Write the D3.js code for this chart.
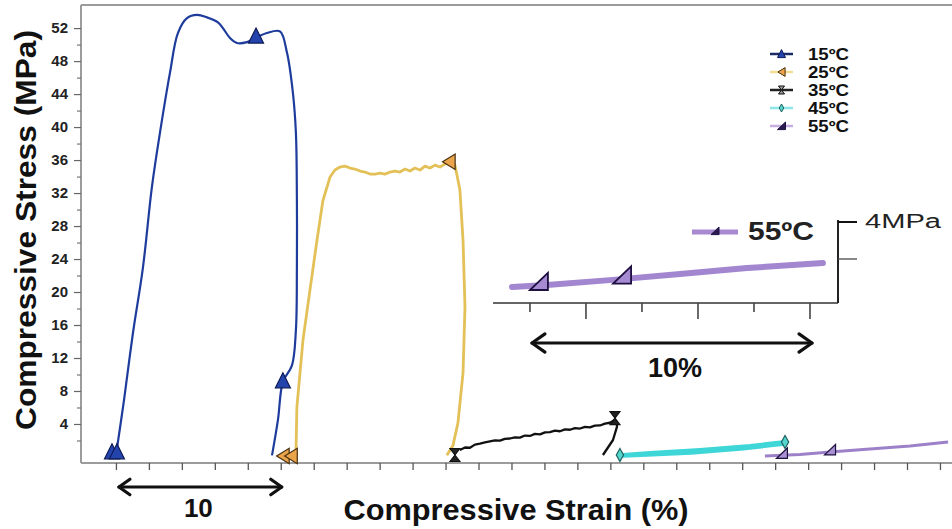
<!DOCTYPE html>
<html>
<head>
<meta charset="utf-8">
<script src="https://cdn.jsdelivr.net/npm/d3@7"></script>
<style>
  body { margin: 0; background: #fff; }
  text { font-family: "Liberation Sans", Arial, sans-serif; }
</style>
</head>
<body>
<svg id="chart"></svg>
<script>
// legend names
const seriesNames = ["15ºC", "25ºC", "35ºC", "45ºC", "55ºC"];

// [strain %, stress MPa] (curves are offset along the strain axis)
const curve15 = [[0.0, 0.2], [0.49, 6.9], [1.03, 15.0], [1.64, 23.0], [2.18, 32.7], [2.67, 39.3],
  [3.28, 46.6], [3.76, 51.4], [4.31, 53.2], [4.92, 53.6], [5.52, 53.3], [6.19, 52.7], [6.49, 52.0],
  [6.92, 50.8], [7.34, 50.2], [7.95, 50.3], [8.56, 50.9], [9.16, 51.4], [9.95, 51.6], [10.38, 49.0],
  [10.74, 44.1], [10.92, 39.3], [10.98, 31.2], [10.98, 23.0], [10.92, 15.4], [10.68, 11.1],
  [10.13, 9.1], [9.83, 4.5], [9.47, 0.2]];
const curve25 = [[10.92, 0.2], [10.98, 6.05], [11.35, 14.2], [11.77, 20.2], [12.2, 26.3], [12.56, 31.1],
  [12.99, 33.94], [13.29, 34.79], [13.59, 35.15], [13.9, 35.27], [14.2, 35.03], [14.5, 34.91],
  [14.81, 34.67], [15.11, 34.55], [15.41, 34.3], [15.72, 34.3], [16.02, 34.42], [16.32, 34.3],
  [16.63, 34.55], [16.93, 34.67], [17.23, 34.55], [17.54, 34.91], [17.84, 34.67], [18.14, 35.03],
  [18.45, 34.79], [18.75, 35.27], [19.05, 35.03], [19.36, 35.39], [19.66, 35.15], [19.96, 35.52],
  [20.27, 35.64], [20.57, 35.39], [20.87, 32.4], [21.06, 26.3], [21.18, 18.2], [21.06, 10.2],
  [20.75, 4.1], [20.45, 1.4], [20.08, 0.2]];
const curve35 = [[20.87, 0.85], [21.18, 1.15], [21.48, 1.12], [21.78, 1.5], [22.09, 1.62], [22.39, 1.78],
  [22.69, 1.9], [23.0, 2.02], [23.3, 1.98], [23.6, 2.2], [23.91, 2.24], [24.21, 2.38], [24.51, 2.35],
  [24.82, 2.6], [25.12, 2.55], [25.42, 2.8], [25.73, 2.74], [26.03, 2.98], [26.33, 3.02], [26.64, 3.2],
  [26.94, 3.12], [27.25, 3.35], [27.55, 3.3], [27.85, 3.5], [28.16, 3.45], [28.46, 3.66], [28.76, 3.6],
  [29.06, 3.8], [29.37, 3.82], [29.67, 4.05], [29.98, 4.15], [30.28, 4.5], [30.4, 4.2], [30.4, 3.64],
  [30.16, 2.06], [29.55, 0.24]];
const curve45 = [[30.76, 0.23], [32.4, 0.48], [35.44, 0.85], [38.47, 1.33], [40.6, 1.82],
  [40.6, 1.6], [37.9, 1.0], [34.9, 0.5], [31.9, 0.25], [30.76, 0.15]];
const curve55 = [[39.38, 0.12], [41.5, 0.3], [43.33, 0.61], [45.75, 0.97], [48.18, 1.33], [50.49, 1.82]];

// marker positions
const marks15 = [[-0.24, 0.6], [0.06, 0.6], [8.5, 51.0], [10.13, 9.2]];
const marks25 = [[10.13, 0.12], [10.62, 0.12], [20.2, 35.8]];
const marks35 = [[20.57, 0.24], [30.28, 4.7]];
const marks45 = [[30.58, 0.24], [40.6, 1.82]];
const marks55 = [[40.41, 0.42], [43.33, 0.85]];

// inset (zoomed 55ºC)
const inset55 = [[39.36, 0.49], [40.61, 0.59], [42.96, 0.87], [45.36, 1.19], [47.75, 1.51], [50.46, 1.78]];
const insetMarks55 = [[40.32, 0.76], [43.29, 1.11]];
const insetXTicks = [40, 42, 44, 46, 48, 50];
const insetYTicks = [2, 4];

// ticks
const yMajor = [4, 8, 12, 16, 20, 24, 28, 32, 36, 40, 44, 48, 52];
const yMinor = [2, 6, 10, 14, 18, 22, 26, 30, 34, 38, 42, 46, 50];
const xTicks = [0, 2, 4, 6, 8, 10, 12, 14, 16, 18, 20, 22, 24, 26, 28, 30, 32, 34, 36, 38, 40, 42, 44, 46, 48, 50];

const W = 952, H = 529;
const svg = d3.select("#chart").attr("width", W).attr("height", H);

const x = d3.scaleLinear().domain([-2.12, 50.73]).range([81, 952]);
const y = d3.scaleLinear().domain([-0.73, 54.8]).range([463, 5]);

// marker shapes (relative to centre)
const shapes = {
  up: s => `M0,${-s * 0.55}L${s * 0.5},${s * 0.45}L${-s * 0.5},${s * 0.45}Z`,
  left: s => `M${-s * 0.45},0L${s * 0.45},${-s * 0.55}L${s * 0.45},${s * 0.55}Z`,
  hour: s => `M${-s * 0.38},${-s * 0.5}L${s * 0.38},${-s * 0.5}L0,0L${s * 0.38},${s * 0.5}L${-s * 0.38},${s * 0.5}L0,0Z`,
  diamond: s => `M0,${-s * 0.5}L${s * 0.28},0L0,${s * 0.5}L${-s * 0.28},0Z`,
  right: s => `M${-s * 0.5},${s * 0.45}L${s * 0.5},${s * 0.45}L${s * 0.5},${-s * 0.5}Z`
};

const series = [
  { data: curve15, marks: marks15, color: "#1e3c9c", width: 2.2, curve: d3.curveCatmullRom, shape: "up", size: 15, fill: "#2444ad", stroke: "#0c1a55", legColor: "#1a2a66", legFill: "#2444ad" },
  { data: curve25, marks: marks25, color: "#e3c158", width: 2.8, curve: d3.curveLinear, shape: "left", size: 14, fill: "#e9a44c", stroke: "#4a3010", legColor: "#f0de98", legFill: "#e9a44c" },
  { data: curve35, marks: marks35, color: "#111", width: 2.3, curve: d3.curveLinear, shape: "hour", size: 13, fill: "#222", stroke: "#111", legColor: "#222", legFill: "#999" },
  { data: curve45, marks: marks45, color: "#3fd6d8", width: 4, curve: d3.curveLinear, shape: "diamond", size: 13, fill: "#55d6cc", stroke: "#1f6060", legColor: "#8ee6e6", legFill: "#55d6cc" },
  { data: curve55, marks: marks55, color: "#9c80c8", width: 3, curve: d3.curveLinear, shape: "right", size: 11, fill: "#a890d2", stroke: "#1e1040", legColor: "#c6aee2", legFill: "#2a1a50" }
];

// frame
const frame = svg.append("g").attr("stroke", "#9c9c9c").attr("stroke-width", 2);
frame.append("line").attr("x1", x.range()[0]).attr("x2", x.range()[1]).attr("y1", y.range()[1]).attr("y2", y.range()[1]);
frame.append("line").attr("x1", x.range()[0]).attr("x2", x.range()[0]).attr("y1", y.range()[1]).attr("y2", y.range()[0]);
frame.append("line").attr("x1", x.range()[0]).attr("x2", x.range()[1]).attr("y1", y.range()[0]).attr("y2", y.range()[0]);

// y axis
svg.append("g")
  .attr("transform", `translate(${x.range()[0]},0)`)
  .call(d3.axisLeft(y).tickValues(yMajor).tickSize(7).tickPadding(6))
  .call(g => g.select(".domain").remove())
  .call(g => g.selectAll("line").attr("stroke", "#666").attr("stroke-width", 1.2))
  .call(g => g.selectAll("text").attr("font-size", 15).attr("font-weight", "bold").attr("fill", "#222")
    .attr("font-family", "'Liberation Sans', Arial, sans-serif"));
svg.append("g")
  .attr("transform", `translate(${x.range()[0]},0)`)
  .call(d3.axisLeft(y).tickValues(yMinor).tickSize(4).tickFormat(""))
  .call(g => g.select(".domain").remove())
  .call(g => g.selectAll("line").attr("stroke", "#777").attr("stroke-width", 1.2));

// x axis (ticks only)
svg.append("g")
  .attr("transform", `translate(0,${y.range()[0]})`)
  .call(d3.axisBottom(x).tickValues(xTicks).tickSize(7).tickFormat(""))
  .call(g => g.select(".domain").remove())
  .call(g => g.selectAll("line").attr("stroke", "#555").attr("stroke-width", 1.3));

// curves
series.forEach(s => {
  svg.append("path")
    .datum(s.data)
    .attr("fill", "none")
    .attr("stroke", s.color)
    .attr("stroke-width", s.width)
    .attr("stroke-linejoin", "round")
    .attr("d", d3.line().x(d => x(d[0])).y(d => y(d[1])).curve(s.curve));
});
series.forEach(s => {
  svg.selectAll(null)
    .data(s.marks)
    .join("path")
    .attr("transform", d => `translate(${x(d[0])},${y(d[1])})`)
    .attr("d", shapes[s.shape](s.size))
    .attr("fill", s.fill)
    .attr("stroke", s.stroke)
    .attr("stroke-width", 1.2);
});

// legend
const leg = svg.append("g").attr("transform", "translate(770,54)");
seriesNames.forEach((name, i) => {
  const s = series[i];
  const row = leg.append("g").attr("transform", `translate(0,${i * 18})`);
  row.append("line").attr("x1", 0).attr("x2", 23).attr("stroke", s.legColor).attr("stroke-width", 2.5);
  row.append("path").attr("transform", "translate(11.5,0)").attr("d", shapes[s.shape](8))
    .attr("fill", s.legFill).attr("stroke", s.stroke).attr("stroke-width", 1);
  row.append("text").attr("x", 38).attr("y", 5.5).attr("font-size", 16).attr("font-weight", "bold")
    .attr("fill", "#111").attr("textLength", 41).attr("lengthAdjust", "spacingAndGlyphs").text(name);
});

// scale arrow helper
function arrow(x1, x2, yy, head) {
  const g = svg.append("g").attr("stroke", "#111").attr("stroke-width", 3.2).attr("fill", "none")
    .attr("stroke-linecap", "round").attr("stroke-linejoin", "round");
  g.append("line").attr("x1", x1).attr("x2", x2).attr("y1", yy).attr("y2", yy);
  g.append("path").attr("d", `M${x1 + head},${yy - head * 0.7}L${x1},${yy}L${x1 + head},${yy + head * 0.7}`);
  g.append("path").attr("d", `M${x2 - head},${yy - head * 0.7}L${x2},${yy}L${x2 - head},${yy + head * 0.7}`);
}

// main strain scale bar: 10 %
arrow(x(0) + 3, x(10) + 1, 487, 11);
svg.append("text").attr("x", (x(0) + x(10)) / 2).attr("y", 517).attr("text-anchor", "middle")
  .attr("font-size", 26).attr("font-weight", "bold").attr("fill", "#111").text("10");

// axis titles
svg.append("text").attr("x", 516).attr("y", 520).attr("text-anchor", "middle")
  .attr("font-size", 30).attr("font-weight", "bold").attr("fill", "#111")
  .attr("textLength", 345).attr("lengthAdjust", "spacingAndGlyphs")
  .text("Compressive Strain (%)");
svg.append("text").attr("transform", "translate(36,230) rotate(-90)").attr("text-anchor", "middle")
  .attr("font-size", 30).attr("font-weight", "bold").attr("fill", "#111")
  .attr("textLength", 400).attr("lengthAdjust", "spacingAndGlyphs")
  .text("Compressive Stress (MPa)");

// ---- inset ----
const xi = d3.scaleLinear().domain([38.68, 51.0]).range([493, 838]);
const yi = d3.scaleLinear().domain([-0.38, 4]).range([303, 222]);
const inset = svg.append("g");

inset.append("line").attr("x1", xi.range()[0]).attr("x2", xi.range()[1])
  .attr("y1", yi.range()[0]).attr("y2", yi.range()[0]).attr("stroke", "#333").attr("stroke-width", 1.6);
inset.append("line").attr("x1", xi.range()[1]).attr("x2", xi.range()[1])
  .attr("y1", yi.range()[0]).attr("y2", yi.range()[1] - 2).attr("stroke", "#222").attr("stroke-width", 2);
inset.selectAll(null).data(insetXTicks).join("line")
  .attr("x1", d => xi(d)).attr("x2", d => xi(d))
  .attr("y1", yi.range()[0]).attr("y2", (d, i) => yi.range()[0] + (i % 2 ? 16 : 9))
  .attr("stroke", "#444").attr("stroke-width", 1.6);
inset.selectAll(null).data(insetYTicks).join("line")
  .attr("x1", xi.range()[1]).attr("x2", xi.range()[1] + 19)
  .attr("y1", d => yi(d)).attr("y2", d => yi(d))
  .attr("stroke", d => d === 4 ? "#111" : "#555").attr("stroke-width", d => d === 4 ? 2 : 1.4);
inset.append("text").attr("x", xi.range()[1] + 27).attr("y", yi(4) + 6)
  .attr("font-size", 20).attr("fill", "#222")
  .attr("textLength", 76).attr("lengthAdjust", "spacingAndGlyphs").text("4MPa");

inset.append("path").datum(inset55)
  .attr("fill", "none").attr("stroke", "#a286cf").attr("stroke-width", 6).attr("stroke-linecap", "round")
  .attr("d", d3.line().x(d => xi(d[0])).y(d => yi(d[1])));
inset.selectAll(null).data(insetMarks55).join("path")
  .attr("transform", d => `translate(${xi(d[0])},${yi(d[1])})`)
  .attr("d", shapes.right(18))
  .attr("fill", "#a68ad2").attr("stroke", "#1e1040").attr("stroke-width", 1.8);

// inset legend
inset.append("line").attr("x1", 692).attr("x2", 738).attr("y1", 232).attr("y2", 232)
  .attr("stroke", "#a88ad0").attr("stroke-width", 5);
inset.append("path").attr("transform", "translate(715,231)").attr("d", shapes.right(8))
  .attr("fill", "#2a1a50").attr("stroke", "#1e1040").attr("stroke-width", 1);
inset.append("text").attr("x", 748).attr("y", 240).attr("font-size", 26).attr("font-weight", "bold")
  .attr("fill", "#222").attr("textLength", 66).attr("lengthAdjust", "spacingAndGlyphs").text("55ºC");

// inset strain scale bar: 10 %
arrow(xi(40) + 2, xi(50) + 2, 343, 13);
inset.append("text").attr("x", (xi(40) + xi(50)) / 2 + 5).attr("y", 377).attr("text-anchor", "middle")
  .attr("font-size", 27).attr("font-weight", "bold").attr("fill", "#111").text("10%");
</script>
</body>
</html>
